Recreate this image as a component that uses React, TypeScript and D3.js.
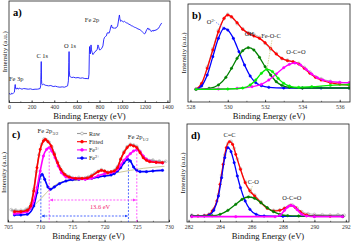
import { useRef, useEffect } from "react";
import * as d3 from "d3";

type Pt = [number, number];

const W = 354;
const H = 242;
const SERIF = "'Liberation Serif', 'Times New Roman', serif";

// a) survey spectrum  [binding energy (eV), intensity (a.u.)]
const surveySpectrum: Pt[] = [
  [0, 2.5], [8, 2.7], [16, 2.4], [24, 2.8], [32, 2.6], [40, 2.9], [48, 3.1], [52, 4.8], [55, 5.4], [58, 4.2],
  [64, 4.0], [72, 4.4], [80, 4.0], [90, 4.3], [100, 4.2], [115, 4.0], [130, 4.2], [150, 4.1], [170, 4.0], [190, 4.1],
  [210, 3.9], [230, 4.0], [250, 4.0], [265, 4.1], [275, 4.2], [280, 5.0], [283, 9.0], [285, 12.3], [287, 7.0], [290, 5.6],
  [296, 5.3], [305, 5.5], [320, 5.2], [335, 5.1], [350, 5.0], [370, 5.1], [390, 4.8], [410, 4.9], [430, 4.7], [450, 4.6],
  [470, 4.7], [490, 4.6], [505, 4.8], [518, 5.0], [525, 6.5], [529, 12.0], [531, 15.3], [533, 9.5], [537, 7.8], [545, 7.7],
  [555, 7.5], [570, 7.6], [590, 7.4], [610, 7.5], [630, 7.3], [650, 7.4], [670, 7.2], [690, 7.2], [702, 7.1], [707, 8.5],
  [710, 14.5], [712, 16.8], [715, 15.6], [719, 14.6], [722, 15.8], [725, 17.3], [729, 15.8], [735, 15.0], [742, 14.4], [750, 14.8],
  [760, 15.3], [770, 15.5], [780, 16.0], [786, 17.3], [792, 16.8], [800, 15.8], [810, 15.9], [820, 16.3], [830, 17.0], [838, 19.0],
  [845, 19.6], [852, 19.8], [860, 20.0], [868, 20.9], [876, 21.0], [884, 20.8], [892, 21.6], [900, 22.8], [906, 23.3], [912, 22.4],
  [920, 22.6], [928, 22.2], [936, 22.5], [945, 22.3], [952, 22.6], [960, 23.0], [966, 24.2], [972, 25.6], [976, 26.3], [980, 25.2],
  [986, 24.4], [992, 24.6], [1000, 24.5], [1010, 24.2], [1020, 24.4], [1030, 24.1], [1040, 23.9], [1050, 23.8], [1060, 23.5], [1070, 23.4],
  [1080, 23.1], [1090, 23.0], [1100, 22.8], [1110, 22.6], [1120, 22.5], [1130, 22.3], [1140, 22.1], [1150, 22.0], [1160, 21.8], [1170, 21.5],
  [1180, 21.2], [1190, 20.9], [1198, 20.6], [1205, 20.8], [1212, 21.5], [1220, 22.0], [1228, 22.4], [1235, 21.9], [1242, 22.1], [1250, 21.6],
  [1258, 21.3], [1266, 21.7], [1274, 21.4], [1282, 21.8], [1290, 21.5], [1298, 21.9], [1306, 21.8], [1314, 22.2], [1322, 22.3], [1330, 22.8],
  [1338, 23.3], [1344, 23.6], [1350, 23.9],
];
const surveyTicks = [0, 200, 400, 600, 800, 1000, 1200, 1400];
const surveyPeaks = [
  { name: "Fe 3p", e: 55, i: 5.4 },
  { name: "C 1s", e: 285, i: 12.3 },
  { name: "O 1s", e: 531, i: 15.3 },
  { name: "Fe 2p", e: 725, i: 21.5 },
];

// b) O 1s
const o1sRaw: Pt[] = [
  [528.3, 3.8], [528.6, 5.2], [528.9, 10.5], [529.2, 16.0], [529.5, 21.5], [529.8, 25.0], [530.0, 26.3], [530.2, 25.4],
  [530.5, 23.5], [530.8, 22.0], [531.1, 20.8], [531.4, 20.3], [531.7, 19.4], [532.0, 17.6], [532.3, 15.8], [532.6, 14.6],
  [532.9, 13.0], [533.2, 12.6], [533.5, 12.0], [533.8, 11.6], [534.1, 10.4], [534.4, 9.0], [534.7, 7.6], [535.0, 7.0],
  [535.5, 6.2], [536.0, 5.8], [536.5, 5.6],
];
const o1sFit: Pt[] = [
  [528.3, 3.8], [528.6, 5.6], [528.9, 10.1], [529.2, 15.6], [529.5, 21.1], [529.8, 25.1], [530.0, 26.1], [530.2, 25.6],
  [530.5, 23.8], [530.8, 21.8], [531.1, 20.6], [531.4, 19.8], [531.7, 19.1], [532.0, 17.8], [532.3, 16.1], [532.6, 14.4],
  [532.9, 13.1], [533.2, 12.4], [533.5, 12.1], [533.8, 11.4], [534.1, 10.1], [534.4, 8.6], [534.7, 7.4], [535.0, 6.6],
  [535.5, 5.8], [536.0, 5.3], [536.5, 5.1],
];
const o1sLattice: Pt[] = [
  [528.3, 3.8], [528.6, 4.8], [528.9, 8.1], [529.2, 13.6], [529.5, 19.1], [529.8, 22.1], [530.0, 21.6], [530.3, 19.1],
  [530.6, 15.1], [530.9, 11.1], [531.2, 7.8], [531.5, 5.8], [531.8, 4.9], [532.2, 4.4], [533.0, 4.2], [534.0, 4.2],
  [535.0, 4.2], [536.5, 4.2],
];
const o1sHydroxyl: Pt[] = [
  [528.3, 3.8], [529.0, 4.1], [529.5, 5.1], [529.9, 7.4], [530.2, 10.1], [530.5, 13.1], [530.8, 15.4], [531.1, 16.3],
  [531.4, 15.6], [531.7, 13.4], [532.0, 10.6], [532.3, 8.1], [532.6, 6.1], [532.9, 5.0], [533.3, 4.4], [534.0, 4.2],
  [536.5, 4.2],
];
const o1sFeOC: Pt[] = [
  [528.3, 3.8], [530.0, 3.9], [530.8, 4.2], [531.2, 5.1], [531.5, 6.6], [531.8, 8.6], [532.1, 9.8], [532.4, 9.1],
  [532.7, 7.1], [533.0, 5.6], [533.3, 4.8], [533.8, 4.4], [534.5, 4.6], [535.5, 5.0], [536.5, 5.2],
];
const o1sOCO: Pt[] = [
  [528.3, 3.8], [529.5, 3.9], [530.5, 4.1], [531.3, 4.6], [531.8, 5.3], [532.2, 6.6], [532.6, 8.4], [533.0, 10.3],
  [533.3, 11.3], [533.6, 11.7], [533.9, 11.1], [534.2, 9.8], [534.5, 8.4], [534.8, 7.3], [535.1, 6.6], [535.5, 6.1],
  [536.0, 5.9], [536.5, 5.8],
];
const o1sTicks = [528, 530, 532, 534, 536];

// c) Fe 2p
const fe2pRaw: Pt[] = [
  [705.5, 3.4], [705.8, 3.0], [706.2, 3.3], [706.6, 2.9], [707.0, 3.2], [707.4, 3.0], [707.8, 3.5], [708.2, 3.9],
  [708.6, 5.2], [709.0, 9.5], [709.4, 14.8], [709.8, 19.8], [710.2, 23.0], [710.6, 24.6], [711.0, 24.3], [711.4, 23.6],
  [711.8, 22.2], [712.2, 20.4], [712.6, 18.0], [713.0, 16.3], [713.5, 14.8], [714.0, 13.8], [714.5, 13.4], [715.0, 13.0],
  [715.5, 12.6], [716.0, 13.1], [716.5, 12.7], [717.0, 13.0], [717.5, 13.3], [718.0, 13.8], [718.5, 14.4], [719.0, 14.9],
  [719.5, 15.4], [720.0, 14.9], [720.5, 14.7], [721.0, 14.6], [721.5, 15.2], [722.0, 16.3], [722.5, 18.6], [723.0, 20.8],
  [723.5, 22.3], [724.0, 23.0], [724.5, 22.8], [725.0, 22.4], [725.5, 20.9], [726.0, 19.3], [726.5, 18.6], [727.0, 18.1],
  [727.5, 18.3], [728.0, 17.8], [728.5, 18.0], [729.0, 17.6], [729.5, 17.9],
];
const fe2pFit: Pt[] = [
  [706.0, 2.8], [707.0, 2.8], [708.0, 3.2], [708.5, 4.5], [709.0, 9.0], [709.5, 16.0], [710.0, 21.5], [710.5, 24.0],
  [710.8, 24.5], [711.2, 23.8], [711.7, 22.5], [712.2, 20.0], [712.7, 17.5], [713.2, 15.5], [713.8, 14.0], [714.5, 13.2],
  [715.5, 12.8], [716.5, 12.8], [717.3, 12.9], [718.0, 13.5], [719.0, 14.8], [719.5, 15.2], [720.0, 15.0], [720.5, 14.5],
  [721.0, 14.8], [721.5, 15.0], [722.0, 16.0], [722.5, 18.5], [723.0, 20.5], [723.5, 22.0], [724.0, 22.8], [724.5, 22.5],
  [725.0, 22.0], [725.5, 20.5], [726.0, 19.0], [726.5, 18.2], [727.0, 17.8], [728.0, 17.6], [729.0, 17.5],
];
const fe3Plus: Pt[] = [
  [706.0, 2.2], [708.0, 2.8], [709.0, 6.0], [709.5, 10.0], [710.0, 15.0], [710.5, 19.5], [711.0, 21.5], [711.4, 22.0],
  [711.8, 21.0], [712.3, 19.0], [712.8, 16.5], [713.3, 14.5], [714.0, 13.2], [715.0, 12.8], [716.0, 12.6], [717.0, 12.5],
  [718.0, 12.8], [719.0, 13.6], [720.0, 14.2], [721.0, 14.5], [721.5, 14.8], [722.0, 15.5], [722.5, 16.8], [723.0, 18.2],
  [723.5, 19.2], [724.0, 20.2], [724.5, 21.0], [725.0, 21.3], [725.5, 20.8], [726.0, 19.5], [726.5, 18.5], [727.0, 18.0],
  [728.0, 17.6], [729.0, 17.4],
];
const fe2Plus: Pt[] = [
  [706.0, 1.8], [707.0, 1.8], [708.0, 2.0], [709.0, 4.5], [709.5, 8.5], [710.0, 13.5], [710.3, 14.0], [710.7, 12.5],
  [711.2, 10.2], [711.6, 9.5], [712.2, 10.2], [713.0, 11.2], [714.0, 12.0], [715.0, 12.4], [716.0, 12.5], [717.0, 12.6],
  [718.0, 12.8], [719.0, 13.2], [720.0, 13.5], [721.0, 13.8], [721.5, 14.2], [722.0, 15.0], [722.5, 16.0], [723.0, 17.5],
  [723.6, 18.5], [724.0, 18.0], [724.5, 16.2], [725.0, 15.2], [725.5, 14.8], [726.5, 14.8], [727.5, 15.0], [729.0, 15.2],
];
const fe2pBackground: Pt[] = [
  [707.5, 2.5], [708.5, 3.5], [709.5, 5.5], [710.5, 7.5], [711.5, 9.5], [712.5, 11.0], [714.0, 12.0], [716.0, 12.3],
  [718.0, 13.0], [720.0, 13.8], [722.0, 14.5], [724.0, 15.2], [726.0, 15.8], [728.0, 16.2], [729.3, 16.4],
];
const fe2pTicks = [705, 710, 715, 720, 725, 730];
// peak positions: [Fe2+, Fe3+] for 2p3/2 and 2p1/2
const fe2p32 = [710.1, 711.4];
const fe2p12 = [723.7, 725.0];

// d) C 1s
const c1sRaw: Pt[] = [
  [282.2, 1.8], [282.6, 1.6], [283.0, 1.7], [283.3, 2.1], [283.6, 3.6], [283.9, 8.0], [284.1, 13.8], [284.3, 19.8],
  [284.5, 23.2], [284.7, 23.9], [284.9, 21.8], [285.1, 18.6], [285.3, 15.7], [285.6, 11.8], [285.9, 9.3], [286.2, 7.8],
  [286.6, 5.8], [287.0, 3.9], [287.4, 3.2], [287.8, 3.3], [288.1, 3.9], [288.4, 4.6], [288.6, 4.8], [288.9, 3.9],
  [289.2, 2.8], [289.6, 2.2], [290.0, 2.0], [290.5, 1.9], [291.0, 1.8], [291.5, 1.9], [291.9, 1.7],
];
const c1sFit: Pt[] = [
  [282.2, 1.5], [282.6, 1.5], [283.0, 1.6], [283.3, 1.9], [283.5, 3.0], [283.8, 6.0], [284.0, 11.0], [284.2, 17.0],
  [284.4, 22.0], [284.6, 23.8], [284.8, 23.0], [285.0, 20.0], [285.3, 15.5], [285.6, 11.5], [285.9, 9.0], [286.2, 7.5],
  [286.6, 5.5], [287.0, 3.8], [287.4, 3.0], [287.8, 3.2], [288.1, 3.8], [288.5, 4.7], [288.8, 4.0], [289.1, 2.8],
  [289.5, 1.8], [290.0, 1.5], [291.0, 1.4], [291.8, 1.4],
];
const c1sCC: Pt[] = [
  [282.2, 1.5], [283.0, 1.5], [283.3, 1.8], [283.6, 3.2], [283.9, 7.5], [284.1, 13.0], [284.3, 19.0], [284.5, 22.0],
  [284.7, 20.8], [284.9, 17.5], [285.1, 13.5], [285.3, 10.0], [285.6, 6.0], [285.9, 3.5], [286.3, 2.0], [286.8, 1.5],
  [288.0, 1.4], [290.0, 1.4], [291.8, 1.4],
];
const c1sCO: Pt[] = [
  [282.2, 1.5], [283.5, 1.6], [284.0, 2.0], [284.5, 3.2], [285.0, 5.0], [285.4, 6.5], [285.8, 7.2], [286.2, 6.8],
  [286.6, 5.5], [287.0, 4.0], [287.4, 2.8], [287.8, 2.0], [288.3, 1.6], [289.0, 1.5], [291.8, 1.4],
];
const c1sOCO: Pt[] = [
  [282.2, 1.3], [285.0, 1.3], [287.5, 1.3], [287.8, 1.7], [288.1, 3.2], [288.3, 4.2], [288.5, 4.7], [288.7, 4.4],
  [288.9, 3.4], [289.2, 2.0], [289.5, 1.5], [290.0, 1.3], [291.8, 1.3],
];
const c1sTicks = [282, 284, 286, 288, 290, 292];

interface Curve {
  data: Pt[];
  color: string;
  width?: number;
  marker?: "dot" | "ring";
  smooth?: boolean;
}

interface Panel {
  id: string;
  label: string;
  left: number;
  right: number;
  top: number;
  bottom: number;
  xDomain: [number, number];
  yDomain: [number, number];
  ticks: number[];
  minorStep: number;
  curves: Curve[];
}

function drawPanel(root: any, p: Panel) {
  const x = d3.scaleLinear().domain(p.xDomain).range([p.left, p.right]);
  const y = d3.scaleLinear().domain(p.yDomain).range([p.bottom, p.top]);
  const g = root.append("g");

  g.append("clipPath")
    .attr("id", "clip-" + p.id)
    .append("rect")
    .attr("x", p.left)
    .attr("y", p.top)
    .attr("width", p.right - p.left)
    .attr("height", p.bottom - p.top);
  const plot = g.append("g").attr("clip-path", `url(#clip-${p.id})`);

  p.curves.forEach((c) => {
    const line = d3
      .line<Pt>()
      .x((d) => x(d[0]))
      .y((d) => y(d[1]))
      .curve(c.smooth === false ? d3.curveLinear : d3.curveMonotoneX);
    plot
      .append("path")
      .datum(c.data)
      .attr("d", line)
      .attr("fill", "none")
      .attr("stroke", c.color)
      .attr("stroke-width", c.width ?? 1.3)
      .attr("stroke-linejoin", "round");
    if (c.marker) {
      plot
        .selectAll(null)
        .data(c.data)
        .join("circle")
        .attr("cx", (d: Pt) => x(d[0]))
        .attr("cy", (d: Pt) => y(d[1]))
        .attr("r", c.marker === "ring" ? 1.4 : 1.2)
        .attr("fill", c.marker === "ring" ? "none" : c.color)
        .attr("stroke", c.color)
        .attr("stroke-width", 0.5);
    }
  });

  // minor + major ticks, inward
  const [d0, d1] = p.xDomain;
  const minor = d3.range(Math.ceil(d0 / p.minorStep) * p.minorStep, d1 + 1e-9, p.minorStep);
  const gm = g
    .append("g")
    .attr("transform", `translate(0,${p.bottom})`)
    .call(d3.axisBottom(x).tickValues(minor).tickSize(-1.2).tickFormat(() => ""));
  gm.select(".domain").remove();
  gm.selectAll("line").attr("stroke", "#000").attr("stroke-width", 0.5);

  const gx = g
    .append("g")
    .attr("transform", `translate(0,${p.bottom})`)
    .call(d3.axisBottom(x).tickValues(p.ticks).tickSize(-2.2).tickPadding(2.6).tickFormat(d3.format("d")));
  gx.select(".domain").remove();
  gx.selectAll("line").attr("stroke", "#000").attr("stroke-width", 0.6);
  gx.selectAll("text").attr("font-size", 5.8).attr("font-family", SERIF).attr("fill", "#333");

  g.append("rect")
    .attr("x", p.left)
    .attr("y", p.top)
    .attr("width", p.right - p.left)
    .attr("height", p.bottom - p.top)
    .attr("fill", "none")
    .attr("stroke", "#222")
    .attr("stroke-width", 0.8);

  g.append("text")
    .attr("x", (p.left + p.right) / 2)
    .attr("y", p.bottom + 16.5)
    .attr("text-anchor", "middle")
    .attr("font-family", SERIF)
    .attr("font-size", 8.6)
    .attr("fill", "#111")
    .text("Binding Energy (eV)");

  g.append("text")
    .attr("transform", `translate(${p.left - 1.8},${(p.top + p.bottom) / 2}) rotate(-90)`)
    .attr("text-anchor", "middle")
    .attr("font-family", SERIF)
    .attr("font-size", 7)
    .attr("fill", "#111")
    .text("Intensity (a.u.)");

  g.append("text")
    .attr("x", p.left + 4)
    .attr("y", p.top + 15)
    .attr("font-family", SERIF)
    .attr("font-weight", "bold")
    .attr("font-size", 10.5)
    .attr("fill", "#000")
    .text(p.label);

  return { x, y, g };
}

function note(g: any, xp: number, yp: number, txt: string, size = 6.4, color = "#222") {
  return g
    .append("text")
    .attr("x", xp)
    .attr("y", yp)
    .attr("text-anchor", "middle")
    .attr("font-family", SERIF)
    .attr("font-size", size)
    .attr("fill", color)
    .text(txt);
}

export default function App() {
  const svgRef = useRef<SVGSVGElement>(null);

  useEffect(() => {
    const svg = d3.select(svgRef.current);
    svg.selectAll("*").remove();
    svg.append("rect").attr("width", W).attr("height", H).attr("fill", "#fff");

    const defs = svg.append("defs");
    [["arrB", "#2244ff"], ["arrM", "#ff33ff"]].forEach(([id, col]) => {
      defs
        .append("marker")
        .attr("id", id)
        .attr("viewBox", "0 0 10 10")
        .attr("refX", 9)
        .attr("refY", 5)
        .attr("markerWidth", 4)
        .attr("markerHeight", 4)
        .attr("orient", "auto-start-reverse")
        .append("path")
        .attr("d", "M0,0L10,5L0,10z")
        .attr("fill", col);
    });

    // a) survey
    const a = drawPanel(svg, {
      id: "a",
      label: "a)",
      left: 9,
      right: 170,
      top: 1,
      bottom: 102.5,
      xDomain: [0, 1423],
      yDomain: [0, 30.5],
      ticks: surveyTicks,
      minorStep: 100,
      curves: [{ data: surveySpectrum, color: "#1a1aff", width: 0.9, smooth: false }],
    });
    surveyPeaks.forEach((pk) => {
      const lift = pk.name === "Fe 2p" ? 9 : 4;
      note(a.g, a.x(pk.e) + 1, a.y(pk.i) - lift, pk.name, 6.4);
    });

    // b) O 1s
    const b = drawPanel(svg, {
      id: "b",
      label: "b)",
      left: 188,
      right: 350,
      top: 4,
      bottom: 102,
      xDomain: [527.87, 536.55],
      yDomain: [0, 29.4],
      ticks: o1sTicks,
      minorStep: 1,
      curves: [
        { data: o1sRaw, color: "#a0a0a0", width: 0.8, marker: "ring" },
        { data: o1sFit, color: "#ff0000", marker: "dot" },
        { data: o1sLattice, color: "#0000ff", marker: "dot" },
        { data: o1sHydroxyl, color: "#008000", marker: "dot" },
        { data: o1sOCO, color: "#ff00ff", marker: "dot" },
        { data: o1sFeOC, color: "#00ee00", marker: "dot" },
      ],
    });
    const o2 = b.g
      .append("text")
      .attr("x", b.x(529.8) - 13)
      .attr("y", b.y(22.1) - 4)
      .attr("text-anchor", "middle")
      .attr("font-family", SERIF)
      .attr("font-size", 6.4)
      .attr("fill", "#222");
    o2.append("tspan").text("O");
    o2.append("tspan").attr("dy", -2.5).attr("font-size", 4.5).text("2-");
    b.g.append("line")
      .attr("x1", b.x(529.8) - 8).attr("y1", b.y(22.1) - 6)
      .attr("x2", b.x(529.8)).attr("y2", b.y(22.1))
      .attr("stroke", "#3355ff").attr("stroke-width", 0.6).attr("stroke-dasharray", "1.5,1");
    note(b.g, b.x(531.1) + 1, b.y(16.3) - 12, "OH");
    note(b.g, b.x(532.1) + 4, b.y(9.8) - 31, "Fe-O-C");
    b.g.append("line")
      .attr("x1", b.x(532.1) + 5).attr("y1", b.y(9.8) - 29)
      .attr("x2", b.x(532.1)).attr("y2", b.y(9.8))
      .attr("stroke", "#c8c070").attr("stroke-width", 0.7).attr("stroke-dasharray", "1.5,1");
    note(b.g, b.x(533.6) + 1, b.y(11.7) - 9, "O-C=O");

    // c) Fe 2p
    const c = drawPanel(svg, {
      id: "c",
      label: "c)",
      left: 8,
      right: 169,
      top: 123,
      bottom: 222,
      xDomain: [705, 730],
      yDomain: [-0.3, 29.4],
      ticks: fe2pTicks,
      minorStep: 2.5,
      curves: [
        { data: fe2pRaw, color: "#9a9a9a", width: 1.4, marker: "ring", smooth: false },
        { data: fe2pBackground, color: "#b8b06a", width: 0.7 },
        { data: fe2Plus, color: "#0000ff", width: 1.6, marker: "dot" },
        { data: fe3Plus, color: "#ff00ff", width: 1.6, marker: "dot" },
        { data: fe2pFit, color: "#ff0000", width: 1.6, marker: "dot" },
      ],
    });
    const peakI = (data: Pt[], e: number) => data.find((d) => d[0] >= e - 0.05)![1];
    const guides: [number, Pt[], string][] = [
      [fe2p32[0], fe2Plus, "#2244ff"],
      [fe2p32[1], fe3Plus, "#ff33ff"],
      [fe2p12[0], fe2Plus, "#2244ff"],
      [fe2p12[1], fe3Plus, "#ff33ff"],
    ];
    guides.forEach(([e, data, col]) => {
      c.g.append("line")
        .attr("x1", c.x(e)).attr("x2", c.x(e))
        .attr("y1", c.y(peakI(data, e))).attr("y2", 222)
        .attr("stroke", col).attr("stroke-width", 0.8).attr("stroke-dasharray", "2,1.5");
    });
    c.g.append("line")
      .attr("x1", c.x(fe2p32[1]) + 1).attr("x2", c.x(fe2p12[1]) - 1)
      .attr("y1", c.y(6.3)).attr("y2", c.y(6.3))
      .attr("stroke", "#ff33ff").attr("stroke-width", 0.8).attr("stroke-dasharray", "2,1.5")
      .attr("marker-end", "url(#arrM)").attr("marker-start", "url(#arrM)");
    c.g.append("line")
      .attr("x1", c.x(fe2p32[0]) + 1).attr("x2", c.x(fe2p12[0]) - 1)
      .attr("y1", c.y(1.5)).attr("y2", c.y(1.5))
      .attr("stroke", "#2244ff").attr("stroke-width", 0.8).attr("stroke-dasharray", "2,1.5")
      .attr("marker-end", "url(#arrB)").attr("marker-start", "url(#arrB)");
    note(c.g, (c.x(fe2p32[1]) + c.x(fe2p12[1])) / 2 + 7, c.y(6.3) + 9, "13.6 eV", 6.4, "#f0206e");

    const lab32 = c.g.append("text")
      .attr("x", c.x(711.2)).attr("y", c.y(24.5) - 6)
      .attr("text-anchor", "middle").attr("font-family", SERIF).attr("font-size", 6.6).attr("fill", "#222");
    lab32.append("tspan").text("Fe 2p");
    lab32.append("tspan").attr("dy", 1.8).attr("font-size", 4.6).text("3/2");
    const lab12 = c.g.append("text")
      .attr("x", c.x(725.2)).attr("y", c.y(22.8) - 6)
      .attr("text-anchor", "middle").attr("font-family", SERIF).attr("font-size", 6.6).attr("fill", "#222");
    lab12.append("tspan").text("Fe 2p");
    lab12.append("tspan").attr("dy", 1.8).attr("font-size", 4.6).text("1/2");

    const legend: [string, string, string, "ring" | "dot"][] = [
      ["Raw", "", "#9a9a9a", "ring"],
      ["Fitted", "", "#ff0000", "dot"],
      ["Fe", "3+", "#ff00ff", "dot"],
      ["Fe", "2+", "#0000ff", "dot"],
    ];
    legend.forEach(([name, sup, col, mk], i) => {
      const ly = 133.5 + i * 8.2;
      const lg = c.g.append("g");
      lg.append("line").attr("x1", 77).attr("x2", 87).attr("y1", ly).attr("y2", ly)
        .attr("stroke", col).attr("stroke-width", 1.1);
      lg.append("circle").attr("cx", 82).attr("cy", ly).attr("r", 1.4)
        .attr("fill", mk === "ring" ? "#fff" : col).attr("stroke", col).attr("stroke-width", 0.6);
      const t = lg.append("text").attr("x", 89).attr("y", ly + 2)
        .attr("font-family", SERIF).attr("font-size", 6).attr("fill", "#222");
      t.append("tspan").text(name);
      if (sup) t.append("tspan").attr("dy", -2.4).attr("font-size", 4.2).text(sup);
    });

    // d) C 1s
    const d = drawPanel(svg, {
      id: "d",
      label: "d)",
      left: 187,
      right: 349,
      top: 124,
      bottom: 222,
      xDomain: [281.9, 292.2],
      yDomain: [-0.3, 29.1],
      ticks: c1sTicks,
      minorStep: 1,
      curves: [
        { data: c1sRaw, color: "#a0a0a0", width: 0.8, marker: "ring" },
        { data: c1sFit, color: "#ff0000", marker: "dot" },
        { data: c1sCC, color: "#0000ff", marker: "dot" },
        { data: c1sCO, color: "#008000", marker: "dot" },
        { data: c1sOCO, color: "#ff00ff", width: 1.6, marker: "dot" },
      ],
    });
    note(d.g, d.x(284.6), d.y(23.8) - 5, "C=C");
    note(d.g, d.x(285.8) + 5, d.y(7.2) - 13, "C-O");
    d.g.append("line")
      .attr("x1", d.x(285.8) + 4).attr("y1", d.y(7.2) - 11)
      .attr("x2", d.x(285.8) + 1).attr("y2", d.y(7.2) - 1)
      .attr("stroke", "#c8c070").attr("stroke-width", 0.7).attr("stroke-dasharray", "1.5,1");
    note(d.g, d.x(288.5) + 1, d.y(4.7) - 5, "O-C=O");
  }, []);

  return (
    <svg
      ref={svgRef}
      width={W}
      height={H}
      style={{ position: "absolute", left: 0, top: 0 }}
    />
  );
}
